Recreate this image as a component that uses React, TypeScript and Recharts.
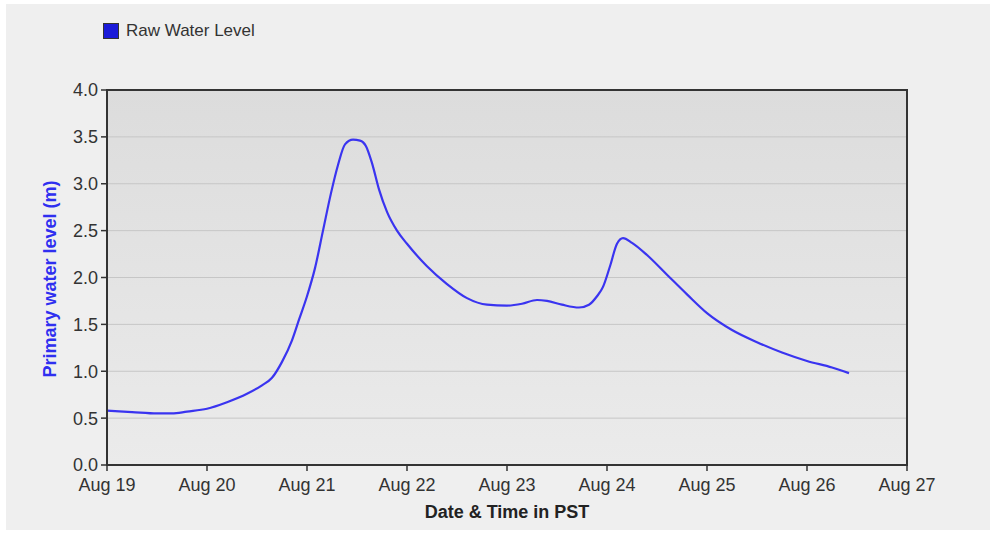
import React from "react";
import {
  CartesianGrid,
  Line,
  LineChart,
  ReferenceArea,
  XAxis,
  YAxis,
} from "recharts";

// Days since Aug 19 00:00 PST, and the raw water level (m).
const dayOffsets = [
  0.0, 0.25, 0.5, 0.65, 0.8, 1.0, 1.2, 1.4, 1.55, 1.65, 1.75, 1.85, 1.92, 2.0,
  2.08, 2.16, 2.24, 2.31, 2.38, 2.46, 2.53, 2.59, 2.65, 2.72, 2.8, 2.9, 3.0,
  3.2, 3.4, 3.6, 3.8, 4.0, 4.15, 4.3, 4.4, 4.55, 4.72, 4.82, 4.9, 4.96, 5.03,
  5.1, 5.16, 5.25, 5.4, 5.6, 5.8, 6.0, 6.25, 6.5, 6.75, 7.0, 7.25, 7.42,
];
const levels = [
  0.58, 0.565, 0.55, 0.55, 0.57, 0.6, 0.67, 0.76, 0.85, 0.93, 1.1, 1.33, 1.55,
  1.8, 2.1, 2.5, 2.9, 3.2, 3.42, 3.47, 3.46, 3.4, 3.22, 2.94, 2.7, 2.5, 2.36,
  2.12, 1.93, 1.78, 1.71, 1.7, 1.72, 1.76, 1.75, 1.71, 1.68, 1.71, 1.8, 1.9,
  2.12, 2.36, 2.42, 2.37, 2.24, 2.03, 1.82, 1.62, 1.44, 1.31, 1.2, 1.11, 1.04,
  0.98,
];
const yTicks = [0, 0.5, 1, 1.5, 2, 2.5, 3, 3.5, 4];
const dayTicks = [0, 1, 2, 3, 4, 5, 6, 7, 8];
const firstDay = 19;
const seriesName = "Raw Water Level";

const data = dayOffsets.map((d, i) => ({ day: d, level: levels[i] }));

const FONT = "'Liberation Sans', Arial, sans-serif";
const tickStyle = { fill: "#333", fontSize: 18, fontFamily: FONT };

export default function App() {
  return (
    <div
      style={{
        position: "absolute",
        left: 0,
        top: 0,
        width: 994,
        height: 542,
        background: "#ffffff",
        fontFamily: FONT,
      }}
    >
      <div
        style={{
          position: "absolute",
          left: 6,
          top: 4,
          width: 984,
          height: 526,
          background: "#efefef",
        }}
      />
      {/* legend */}
      <div
        style={{
          position: "absolute",
          left: 103,
          top: 21,
          display: "flex",
          alignItems: "center",
          gap: 7,
          fontSize: 17,
          color: "#333",
        }}
      >
        <span
          style={{
            width: 14,
            height: 14,
            background: "#1a1ad8",
            border: "1px solid #333",
            display: "inline-block",
          }}
        />
        <span>{seriesName}</span>
      </div>
      <div style={{ position: "absolute", left: 0, top: 0 }}>
        <LineChart
          width={994}
          height={542}
          data={data}
          margin={{ top: 90, right: 87, bottom: 47, left: 47 }}
        >
          <defs>
            <linearGradient id="plotBg" x1="0" y1="0" x2="0" y2="1">
              <stop offset="0%" stopColor="#dcdcdc" />
              <stop offset="100%" stopColor="#ebebeb" />
            </linearGradient>
          </defs>
          <CartesianGrid
            vertical={false}
            stroke="#c6c6c6"
            fill="url(#plotBg)"
            fillOpacity={1}
          />
          <XAxis
            dataKey="day"
            type="number"
            domain={[0, 8]}
            ticks={dayTicks}
            tickFormatter={(v: number) => `Aug ${firstDay + v}`}
            height={30}
            tick={tickStyle}
            tickSize={6}
            tickMargin={7}
            axisLine={{ stroke: "#333", strokeWidth: 2 }}
            tickLine={{ stroke: "#333", strokeWidth: 1.5 }}
            interval={0}
          />
          <YAxis
            type="number"
            domain={[0, 4]}
            ticks={yTicks}
            tickFormatter={(v: number) => v.toFixed(1)}
            width={60}
            tick={tickStyle}
            tickSize={6}
            tickMargin={3}
            axisLine={{ stroke: "#333", strokeWidth: 2 }}
            tickLine={{ stroke: "#333", strokeWidth: 1.5 }}
            interval={0}
          />
          <ReferenceArea
            x1={0}
            x2={8}
            y1={0}
            y2={4}
            fill="none"
            stroke="#333"
            strokeWidth={2}
            ifOverflow="visible"
          />
          <Line
            dataKey="level"
            type="monotone"
            stroke="#3a34f0"
            strokeWidth={2.2}
            dot={false}
            isAnimationActive={false}
          />
        </LineChart>
      </div>
      {/* axis titles */}
      <div
        style={{
          position: "absolute",
          left: 0,
          width: 1014,
          top: 502,
          textAlign: "center",
          fontSize: 18,
          fontWeight: "bold",
          color: "#222",
        }}
      >
        Date &amp; Time in PST
      </div>
      <div
        style={{
          position: "absolute",
          left: 50,
          top: 279,
          transform: "translate(-50%, -50%) rotate(-90deg)",
          whiteSpace: "nowrap",
          fontSize: 18,
          fontWeight: "bold",
          color: "#2f2ff0",
        }}
      >
        Primary water level (m)
      </div>
    </div>
  );
}
